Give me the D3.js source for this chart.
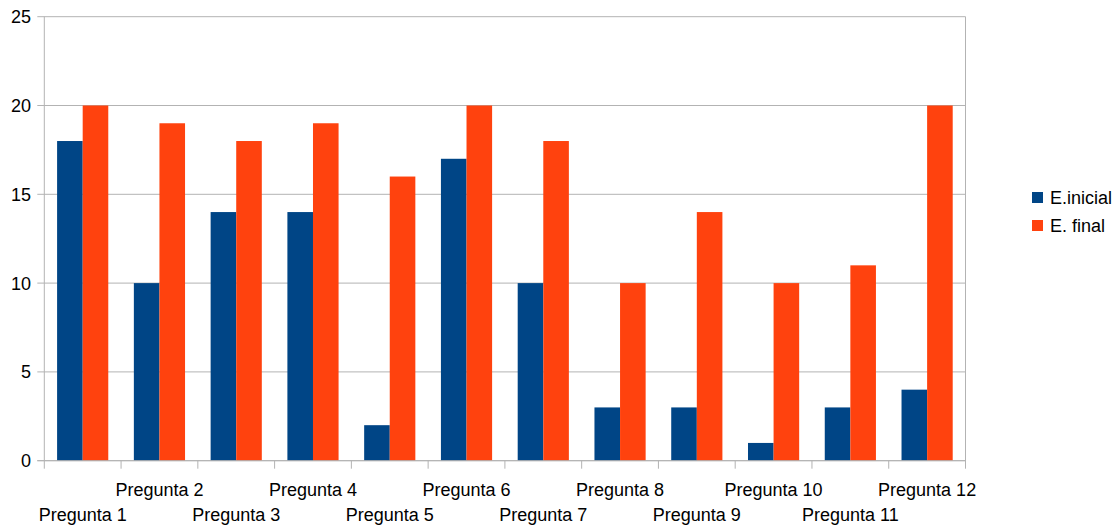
<!DOCTYPE html>
<html>
<head>
<meta charset="utf-8">
<script src="https://cdn.jsdelivr.net/npm/d3@7"></script>
<style>
  html, body { margin: 0; padding: 0; background: #fff; }
  svg { display: block; font-family: "Liberation Sans", Arial, sans-serif; }
</style>
</head>
<body>
<svg id="chart" width="1120" height="527"></svg>
<script>
// Question labels and scores for the two evaluations
const categories = ["Pregunta 1", "Pregunta 2", "Pregunta 3", "Pregunta 4", "Pregunta 5", "Pregunta 6",
                    "Pregunta 7", "Pregunta 8", "Pregunta 9", "Pregunta 10", "Pregunta 11", "Pregunta 12"];
const seriesNames = ["E.inicial", "E. final"];
const inicial = [18, 10, 14, 14, 2, 17, 10, 3, 3, 1, 3, 4];
const final = [20, 19, 18, 19, 16, 20, 18, 10, 14, 10, 11, 20];
const yTicks = [0, 5, 10, 15, 20, 25];
const colors = ["#004586", "#ff420e"];

const svg = d3.select("#chart");
const plot = { left: 44.3, right: 965.5, top: 16.7, bottom: 460.7 };

const x = d3.scaleBand().domain(categories).range([plot.left, plot.right]).paddingInner(0).paddingOuter(0);
const inner = d3.scaleBand().domain(seriesNames).range([x.bandwidth() / 6, x.bandwidth() * 5 / 6]);
const y = d3.scaleLinear().domain([0, 25]).range([plot.bottom, plot.top]);

const gridColor = "#b3b3b3";

// horizontal grid lines with short ticks to the left of the axis
svg.append("g").selectAll("line").data(yTicks).join("line")
  .attr("x1", plot.left - 7).attr("x2", plot.right)
  .attr("y1", d => y(d)).attr("y2", d => y(d))
  .attr("stroke", gridColor).attr("stroke-width", 1);

// right frame line
svg.append("line")
  .attr("x1", plot.right).attr("x2", plot.right)
  .attr("y1", plot.top).attr("y2", plot.bottom + 8)
  .attr("stroke", gridColor);

// y labels
svg.append("g").selectAll("text").data(yTicks).join("text")
  .attr("x", 31).attr("y", d => y(d)).attr("dy", "0.36em")
  .attr("text-anchor", "end").attr("font-size", 18).attr("fill", "#000")
  .text(d => d);

// bars
const data = [inicial, final];
const groups = svg.append("g").selectAll("g").data(categories).join("g")
  .attr("transform", d => `translate(${x(d)},0)`);
groups.selectAll("rect").data((d, i) => seriesNames.map((s, j) => ({ s, v: data[j][i], j })))
  .join("rect")
  .attr("x", d => inner(d.s))
  .attr("width", inner.bandwidth())
  .attr("y", d => y(d.v))
  .attr("height", d => y(0) - y(d.v))
  .attr("fill", d => colors[d.j]);

// left axis line
svg.append("line")
  .attr("x1", plot.left).attr("x2", plot.left)
  .attr("y1", plot.top).attr("y2", plot.bottom + 8)
  .attr("stroke", gridColor);

// x axis line and category ticks
svg.append("line")
  .attr("x1", plot.left - 7).attr("x2", plot.right)
  .attr("y1", plot.bottom).attr("y2", plot.bottom)
  .attr("stroke", gridColor);
svg.append("g").selectAll("line").data(categories.slice(1)).join("line")
  .attr("x1", d => x(d)).attr("x2", d => x(d))
  .attr("y1", plot.bottom).attr("y2", plot.bottom + 8)
  .attr("stroke", gridColor);

// staggered category labels
svg.append("g").selectAll("text").data(categories).join("text")
  .attr("x", d => x(d) + x.bandwidth() / 2)
  .attr("y", (d, i) => i % 2 === 1 ? 496 : 521)
  .attr("text-anchor", "middle").attr("font-size", 18).attr("fill", "#000")
  .text(d => d);

// legend
const legend = svg.append("g").selectAll("g").data(seriesNames).join("g")
  .attr("transform", (d, i) => `translate(1032,${192 + i * 28})`);
legend.append("rect").attr("width", 11).attr("height", 11).attr("fill", (d, i) => colors[i]);
legend.append("text").attr("x", 18).attr("y", 5.5).attr("dy", "0.36em")
  .attr("font-size", 18).attr("fill", "#000").text(d => d);
</script>
</body>
</html>
